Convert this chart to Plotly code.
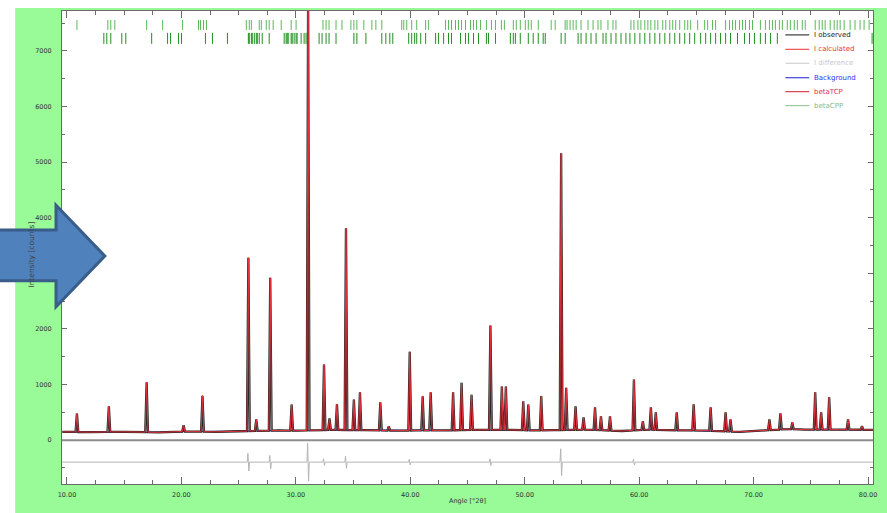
import numpy as np
import plotly.graph_objects as go

# ---------------- data ----------------
peak_pos = [10.87, 13.66, 16.96, 20.19, 21.84, 25.85, 26.54, 27.76, 29.63, 31.07,
            32.46, 32.94, 33.59, 34.38, 35.07, 35.60, 37.38, 38.12, 39.95, 41.08,
            41.78, 43.74, 44.48, 45.35, 47.00, 48.00, 48.35, 49.87, 50.31, 51.44,
            53.18, 53.62, 54.44, 55.14, 56.14, 56.66, 57.45, 59.54, 60.32, 61.02,
            61.45, 63.28, 64.76, 66.24, 67.55, 67.98, 71.38, 72.34, 73.38, 75.38,
            75.90, 76.60, 78.25, 79.47]
peak_int = [480, 610, 1040, 270, 800, 3280, 375, 2920, 640, 7900,
            1360, 390, 650, 3810, 730, 860, 680, 250, 1590, 790,
            860, 860, 1030, 815, 2060, 965, 965, 700, 640, 795,
            5160, 940, 610, 410, 590, 430, 430, 1090, 340, 590,
            500, 500, 645, 590, 500, 375, 375, 480, 320, 860,
            500, 770, 375, 250]

bg_pos = [9.6, 12, 15, 18, 20, 23, 25, 28.5, 30, 33, 36, 38.5, 40.5, 42.5, 45.8,
          48.8, 51, 52.5, 55.5, 58.5, 60.8, 62.5, 65.5, 68.8, 70.5, 73, 74.5, 77.5, 80.5]
bg_int = [150, 145, 150, 140, 155, 150, 160, 175, 170, 185, 180, 170, 175, 175, 185,
          185, 175, 180, 190, 165, 190, 180, 175, 150, 170, 200, 190, 190, 185]

diff_level = -395
diff_pos = [25.85, 27.76, 31.07, 32.46, 34.38, 39.95, 47.00, 53.18, 59.54]
diff_amp = [160, 120, 340, 60, 110, 50, 60, 240, 50]

refl_betaTCP = [10.87, 13.57, 13.83, 14.18, 16.96, 18.36, 20.10, 21.49, 21.67, 21.93,
                22.19, 25.67, 25.93, 26.11, 26.80, 26.98, 27.41, 27.67, 28.02, 28.72,
                29.59, 30.02, 32.37, 32.64, 32.90, 33.51, 34.03, 34.81, 35.07, 35.33,
                35.94, 36.64, 36.99, 37.51, 39.25, 39.43, 39.69, 40.12, 40.56, 41.34,
                41.60, 43.08, 43.34, 43.60, 43.95, 44.21, 44.48, 44.82, 45.26, 45.52,
                45.78, 46.13, 46.65, 47.09, 47.44, 47.96, 48.22, 49.00, 49.26, 49.61,
                50.05, 50.31, 50.57, 51.18, 52.31, 52.66, 53.53, 53.70, 53.96, 54.23,
                54.49, 54.92, 55.53, 55.97, 56.40, 56.66, 57.27, 57.71, 57.97, 59.28,
                59.54, 59.89, 60.15, 60.49, 60.76, 61.02, 61.37, 61.63, 62.06, 62.32,
                62.67, 62.93, 63.19, 63.54, 63.98, 64.24, 64.50, 65.11, 65.72, 65.98,
                66.41, 66.68, 67.55, 67.89, 68.16, 68.42, 68.77, 69.03, 69.29, 69.64,
                69.90, 70.59, 71.03, 71.38, 71.64, 71.90, 72.25, 72.51, 72.94, 73.21,
                73.55, 73.82, 74.25, 74.51, 75.38, 75.73, 75.99, 76.25, 76.69, 77.04,
                77.30, 77.56, 77.91, 78.43, 78.86, 79.30, 79.65, 80.09]
refl_betaCPP = [13.22, 13.48, 13.83, 14.79, 15.14, 17.40, 18.79, 19.05, 19.75, 20.01,
                22.10, 22.71, 24.02, 25.85, 25.93, 26.11, 26.19, 26.37, 26.54, 26.63,
                26.80, 27.06, 27.67, 28.98, 29.15, 29.24, 29.33, 29.59, 29.68, 29.85,
                30.02, 30.11, 30.46, 30.72, 30.89, 32.03, 32.29, 32.64, 32.90, 33.51,
                35.07, 35.33, 36.12, 37.51, 37.86, 38.21, 38.47, 39.86, 40.12, 40.38,
                40.56, 40.91, 41.34, 42.21, 42.47, 42.91, 43.34, 43.60, 44.39, 44.82,
                45.08, 45.52, 45.96, 46.65, 46.83, 47.44, 48.74, 49.00, 49.18, 49.61,
                50.31, 50.74, 51.18, 51.61, 51.79, 53.18, 53.53, 54.66, 54.92, 55.36,
                55.79, 56.23, 56.84, 57.10, 57.54, 57.97, 58.41, 58.84, 59.19, 59.62,
                60.06, 60.49, 60.93, 61.37, 61.80, 62.24, 62.67, 63.11, 63.54, 63.98,
                64.41, 64.85, 65.37, 65.81, 66.24, 66.68, 67.11, 67.55, 67.98, 68.59,
                69.20, 69.64, 70.07, 70.59, 71.03, 71.47, 72.07, 72.51, 80.35]

x_ticks = [10, 20, 30, 40, 50, 60, 70, 80]
y_ticks = [0, 1000, 2000, 3000, 4000, 5000, 6000, 7000]

legend_labels = ["I observed", "I calculated", "I difference", "Background", "betaTCP", "betaCPP"]

# ---------------- page geometry / styles ----------------
W, H = 887, 513
ML, MR, MT, MB = 62, 11, 10, 28
PW, PH = W - ML - MR, H - MT - MB
X_RANGE = [9.565, 80.43]
Y_RANGE = [-788, 7716]
HALF_W = 0.12
FONT = "DejaVu Sans"


def px2x(px):
    return (px - ML) / PW


def py2y(py):
    return (H - MB - py) / PH


def profile(bx, by, pos, inten):
    xs, ys = [], []
    for x, y in zip(bx, by):
        if all(abs(x - p) > HALF_W for p in pos):
            xs.append(x)
            ys.append(y)
    for p, h in zip(pos, inten):
        xs += [p - HALF_W, p, p + HALF_W]
        ys += [float(np.interp(p - HALF_W, bx, by)), h, float(np.interp(p + HALF_W, bx, by))]
    order = np.argsort(xs, kind="stable")
    return [xs[i] for i in order], [ys[i] for i in order]


def diff_curve(level, pos, amp):
    xs = [X_RANGE[0], X_RANGE[1]]
    ys = [level, level]
    for p, a in zip(pos, amp):
        xs += [p - 0.1, p - 0.04, p + 0.04, p + 0.1]
        ys += [level, level + a, level - a, level]
    order = np.argsort(xs, kind="stable")
    return [xs[i] for i in order], [ys[i] for i in order]


def refl(pos, y0, y1):
    xs, ys = [], []
    for p in pos:
        xs += [p, p, None]
        ys += [y0, y1, None]
    return xs, ys


fig = go.Figure()

dx, dy = diff_curve(diff_level, diff_pos, diff_amp)
fig.add_trace(go.Scatter(x=dx, y=dy, mode="lines", name="I difference",
                         line=dict(color="#b4b4b4", width=1), showlegend=False))

fig.add_trace(go.Scatter(x=bg_pos, y=bg_int, mode="lines", name="Background",
                         line=dict(color="#3030e0", width=1), showlegend=False))

ox, oy = profile(bg_pos, bg_int, peak_pos, peak_int)
fig.add_trace(go.Scatter(x=ox, y=oy, mode="lines", name="I observed",
                         line=dict(color="#262626", width=2.3), showlegend=False))
fig.add_trace(go.Scatter(x=ox, y=oy, mode="lines", name="I calculated",
                         line=dict(color="#e8313c", width=1.0), showlegend=False))

rx, ry = refl(refl_betaTCP, 7376, 7555)
fig.add_trace(go.Scatter(x=rx, y=ry, mode="lines", name="betaTCP",
                         line=dict(color="#5ab85a", width=1), showlegend=False))
rx, ry = refl(refl_betaCPP, 7125, 7322)
fig.add_trace(go.Scatter(x=rx, y=ry, mode="lines", name="betaCPP",
                         line=dict(color="#1f8f1f", width=1), showlegend=False))

shapes = []
# white strips outside the green frame
shapes.append(dict(type="rect", xref="paper", yref="paper", x0=px2x(-2), x1=px2x(15),
                   y0=py2y(515), y1=py2y(-2), fillcolor="white", line_width=0, layer="below"))
shapes.append(dict(type="rect", xref="paper", yref="paper", x0=px2x(-2), x1=px2x(890),
                   y0=py2y(7), y1=py2y(-2), fillcolor="white", line_width=0, layer="below"))
# zero / separator line
shapes.append(dict(type="line", xref="paper", yref="y", x0=0, x1=1, y0=0, y1=0,
                   line=dict(color="#8c8c8c", width=2), layer="above"))
# legend box
shapes.append(dict(type="rect", xref="paper", yref="paper", x0=px2x(784), x1=px2x(871),
                   y0=py2y(112), y1=py2y(29), fillcolor="white", line_width=0, layer="above"))

leg_line_colors = ["#3a3a3a", "#f05050", "#d0d0d0", "#4040e0", "#d94050", "#a0c8a0"]
leg_text_colors = ["#222222", "#ee3333", "#c8c8c8", "#3333ee", "#dd3344", "#88b888"]
leg_py = [34, 48.5, 62.5, 77, 91, 105]
annotations = []
for lab, lc, tc, py in zip(legend_labels, leg_line_colors, leg_text_colors, leg_py):
    shapes.append(dict(type="line", xref="paper", yref="paper", x0=px2x(788), x1=px2x(812),
                       y0=py2y(py), y1=py2y(py), line=dict(color=lc, width=1.2), layer="above"))
    annotations.append(dict(x=px2x(815), y=py2y(py), xref="paper", yref="paper", text=lab,
                            showarrow=False, xanchor="left", yanchor="middle",
                            font=dict(family=FONT, size=7, color=tc)))

# y-axis title (partly hidden behind the arrow)
annotations.append(dict(x=px2x(25), y=py2y(255), xref="paper", yref="paper",
                        text="Intensity [counts]", textangle=-90, showarrow=False,
                        font=dict(family=FONT, size=7.5, color="#444444")))

# decorative block arrow
ax = [-6, 56, 56, 105, 56, 56, -6]
ay = [230, 230, 205, 256, 307, 281, 281]
path = "M " + " L ".join(f"{px2x(a)},{py2y(b)}" for a, b in zip(ax, ay)) + " Z"
shapes.append(dict(type="path", xref="paper", yref="paper", path=path,
                   fillcolor="#4f81bd", line=dict(color="#385d8a", width=3), layer="above"))

axis_common = dict(showgrid=False, zeroline=False, showline=True, linecolor="#6a6a6a",
                   linewidth=1, ticks="inside", tickcolor="#6a6a6a", mirror="ticks",
                   tickfont=dict(family=FONT, size=6.5, color="#333333"))

fig.update_layout(
    width=W, height=H,
    margin=dict(l=ML, r=MR, t=MT, b=MB),
    paper_bgcolor="#98fb98", plot_bgcolor="white",
    showlegend=False,
    xaxis=dict(range=X_RANGE, tickvals=x_ticks, ticktext=[f"{v:.2f}" for v in x_ticks],
               ticklen=7, minor=dict(dtick=2.5, tick0=10, ticks="inside", ticklen=4,
                                     tickcolor="#6a6a6a"),
               ticklabelstandoff=4,
               title=dict(text="Angle [°2θ]", font=dict(family=FONT, size=6.5, color="#333333"),
                          standoff=0),
               **axis_common),
    yaxis=dict(range=Y_RANGE, tickvals=y_ticks, ticklen=5,
               minor=dict(dtick=500, tick0=0, ticks="inside", ticklen=3, tickcolor="#6a6a6a"),
               ticklabelstandoff=8,
               **axis_common),
    shapes=shapes,
    annotations=annotations,
)

fig.write_html("out.html", config={"displayModeBar": False},
               post_script="document.body.style.margin='0';document.body.style.overflow='hidden';")
